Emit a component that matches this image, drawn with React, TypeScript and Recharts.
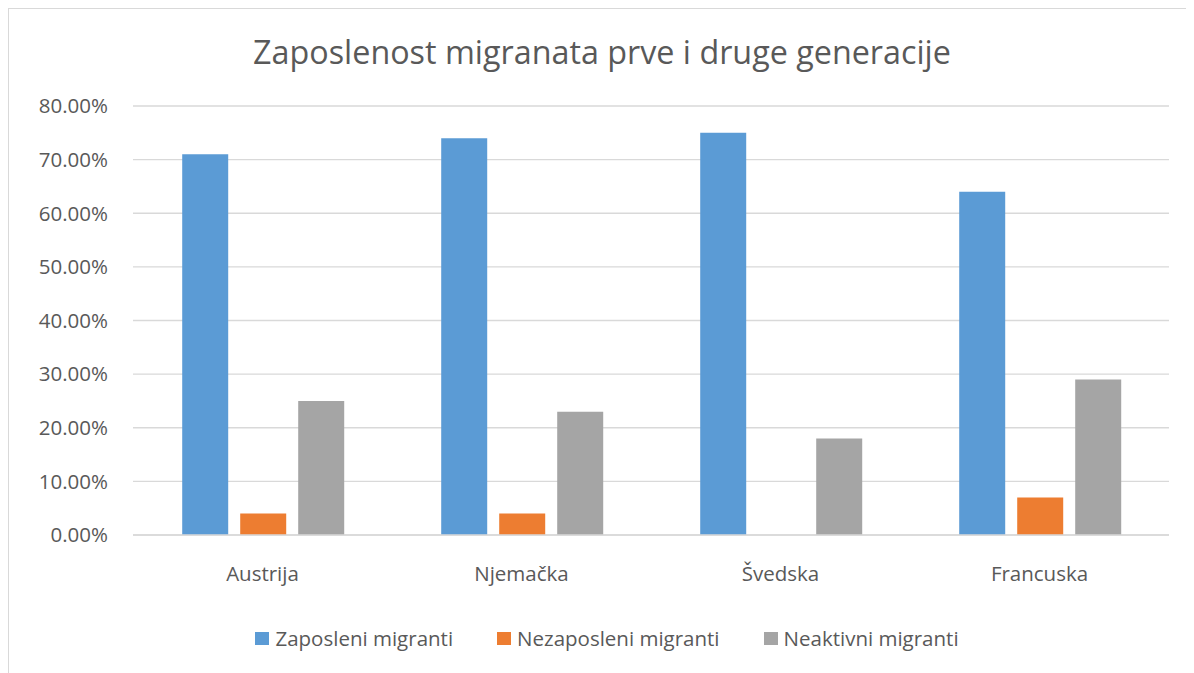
import { Bar, BarChart, CartesianGrid, Legend, XAxis, YAxis } from "recharts";

const countries = ["Austrija", "Njemačka", "Švedska", "Francuska"];
const zaposleni = [71, 74, 75, 64];
const nezaposleni = [4, 4, 0, 7];
const neaktivni = [25, 23, 18, 29];
const yTicks = [0, 10, 20, 30, 40, 50, 60, 70, 80];

const series = [
  { key: "zaposleni", name: "Zaposleni migranti", color: "#5B9BD5" },
  { key: "nezaposleni", name: "Nezaposleni migranti", color: "#ED7D31" },
  { key: "neaktivni", name: "Neaktivni migranti", color: "#A5A5A5" },
];

const data = countries.map((name, i) => ({
  name,
  zaposleni: zaposleni[i],
  nezaposleni: nezaposleni[i],
  neaktivni: neaktivni[i],
}));

const font = "'Open Sans', sans-serif";
const textColor = "#595959";

function ChartLegend() {
  return (
    <div
      style={{
        display: "flex",
        justifyContent: "center",
        alignItems: "center",
        height: 30,
        paddingLeft: 36,
        fontFamily: font,
        fontSize: 20.5,
        color: textColor,
      }}
    >
      {series.map((s, i) => (
        <div
          key={s.key}
          style={{
            display: "flex",
            alignItems: "center",
            marginLeft: i === 0 ? 0 : 44,
          }}
        >
          <span
            style={{
              display: "inline-block",
              width: 14,
              height: 13,
              background: s.color,
              marginRight: 6,
            }}
          />
          <span>{s.name}</span>
        </div>
      ))}
    </div>
  );
}

export default function App() {
  return (
    <div
      style={{
        position: "relative",
        width: 1186,
        height: 665,
        borderLeft: "1px solid #d9d9d9",
        borderTop: "1px solid #d9d9d9",
        boxSizing: "border-box",
        background: "#fff",
      }}
    >
      <div
        style={{
          position: "absolute",
          top: 22,
          left: 0,
          width: 1186,
          textAlign: "center",
          fontFamily: font,
          fontSize: 32.3,
          color: textColor,
          lineHeight: "40px",
        }}
      >
        Zaposlenost migranata prve i druge generacije
      </div>
      <BarChart
        width={1185}
        height={664}
        data={data}
        margin={{ top: 97, right: 25, left: 0, bottom: 20 }}
        barCategoryGap="19%"
        barGap={12}
      >
        <CartesianGrid vertical={false} stroke="#d9d9d9" strokeWidth={1.3} />
        <XAxis
          dataKey="name"
          axisLine={{ stroke: "#d9d9d9", strokeWidth: 1.3 }}
          tickLine={false}
          tickSize={0}
          tickMargin={31}
          height={88}
          tick={{ fill: textColor, fontSize: 20.5, fontFamily: font }}
        />
        <YAxis
          domain={[0, 80]}
          ticks={yTicks}
          width={124}
          axisLine={false}
          tickLine={false}
          tickSize={0}
          tickMargin={25}
          tickFormatter={(v) => `${Number(v).toFixed(2)}%`}
          tick={{ fill: textColor, fontSize: 20.5, fontFamily: font }}
        />
        <Legend verticalAlign="bottom" content={() => <ChartLegend />} />
        {series.map((s) => (
          <Bar
            key={s.key}
            dataKey={s.key}
            name={s.name}
            fill={s.color}
            isAnimationActive={false}
          />
        ))}
      </BarChart>
    </div>
  );
}
